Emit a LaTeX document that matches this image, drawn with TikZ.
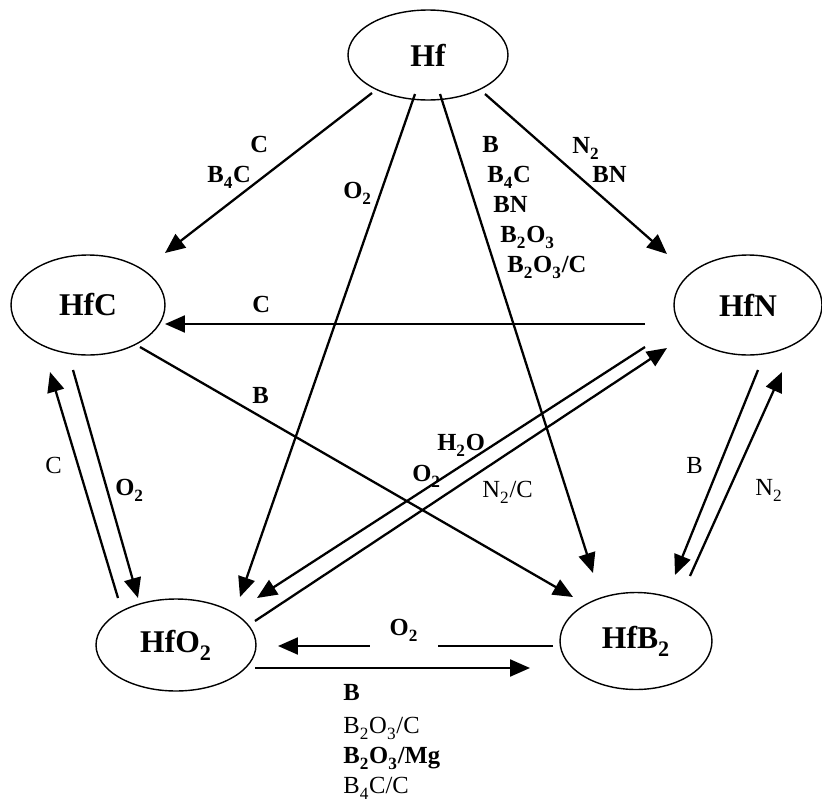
\documentclass[tikz,border=0pt]{standalone}
\usepackage{fontspec}
\setmainfont{Liberation Serif}
\usetikzlibrary{arrows.meta, shapes.geometric}
\newcommand{\lo}[1]{\textsubscript{\raisebox{-0.35ex}{#1}}}

\begin{document}
\begin{tikzpicture}[x=0.02cm, y=-0.02cm,
        phase/.style={ellipse, draw, line width=0.8pt, inner sep=0pt,
            font=\fontsize{18}{20}\selectfont\bfseries},
        rxn/.style={line width=1.3pt, -{Triangle[length=0.4cm, width=0.34cm]}},
        lbl/.style={anchor=base west, inner sep=0pt, font=\fontsize{14}{16}\selectfont\bfseries},
        lbn/.style={anchor=base west, inner sep=0pt, font=\fontsize{14}{16}\selectfont}]

        \useasboundingbox (0,0) rectangle (822,805);

        % phases
        \node[phase, minimum width=3.2cm, minimum height=1.8cm] (hf) at (428,55) {Hf};
        \node[phase, minimum width=3.08cm, minimum height=2cm] (hfc) at (88,305) {HfC};
        \node[phase, minimum width=2.96cm, minimum height=2cm] (hfn) at (748,305) {HfN};
        \node[phase, minimum width=3.2cm, minimum height=1.84cm] (hfo) at (176,645) {HfO\lo{2}};
        \node[phase, minimum width=3.04cm, minimum height=1.94cm] (hfb) at (636,641) {HfB\lo{2}};

        % from Hf
        \draw[rxn] ([shift={(-56,38)}]hf.center) -- ([shift={(77,-52)}]hfc.center);
        \node[lbl] (hfc-c) at (250,152) {C};
        \node[lbl] (hfc-b4c) at (207,182) {B\lo{4}C};

        \draw[rxn] ([shift={(-13,39)}]hf.center) -- ([shift={(64,-48)}]hfo.center);
        \node[lbl] (hfo-o2) at (343,198) {O\lo{2}};

        \draw[rxn] ([shift={(12,39)}]hf.center) -- ([shift={(-43,-68)}]hfb.center);
        \node[lbl] (hfb-b) at (482,152) {B};
        \node[lbl] (hfb-b4c) at (487,182) {B\lo{4}C};
        \node[lbl] (hfb-bn) at (493,212) {BN};
        \node[lbl] (hfb-b2o3) at (500,242) {B\lo{2}O\lo{3}};
        \node[lbl] (hfb-b2o3c) at (507,272) {B\lo{2}O\lo{3}/C};

        \draw[rxn] ([shift={(57,39)}]hf.center) -- ([shift={(-81,-51)}]hfn.center);
        \node[lbl] (hfn-n2) at (572,153) {N\lo{2}};
        \node[lbl] (hfn-bn) at (592,182) {BN};

        % HfN and HfC
        \draw[rxn] ([shift={(-103,19)}]hfn.center) -- ([shift={(77,19)}]hfc.center);
        \node[lbl] (nc-c) at (252,312) {C};

        \draw[rxn] ([shift={(52,42)}]hfc.center) -- ([shift={(-63,-44)}]hfb.center);
        \node[lbl] (cb-b) at (252,403) {B};

        % HfC and HfO2
        \draw[rxn] ([shift={(-15,65)}]hfc.center) -- ([shift={(-38,-47)}]hfo.center);
        \node[lbl] (co-o2) at (115,495) {O\lo{2}};
        \draw[rxn] ([shift={(-58,-47)}]hfo.center) -- ([shift={(-38,67)}]hfc.center);
        \node[lbn] (oc-c) at (45,473) {C};

        % HfN and HfO2
        \draw[rxn] ([shift={(-103,42)}]hfn.center) -- ([shift={(81,-47)}]hfo.center);
        \node[lbl] (no-h2o) at (437,450) {H\lo{2}O};
        \node[lbl] (no-o2) at (412,481) {O\lo{2}};
        \draw[rxn] ([shift={(79,-24)}]hfo.center) -- ([shift={(-81,43)}]hfn.center);
        \node[lbn] (on-n2c) at (482,497) {N\lo{2}/C};

        % HfN and HfB2
        \draw[rxn] ([shift={(10,65)}]hfn.center) -- ([shift={(39,-66)}]hfb.center);
        \node[lbn] (nb-b) at (686,473) {B};
        \draw[rxn] ([shift={(54,-65)}]hfb.center) -- ([shift={(34,67)}]hfn.center);
        \node[lbn] (bn-n2) at (755,495) {N\lo{2}};

        % HfB2 and HfO2
        \draw[rxn] ([shift={(-83,5)}]hfb.center) -- ([shift={(102,1)}]hfo.center);
        \node[lbl, anchor=base, fill=white, inner xsep=0.4cm, inner ysep=0.2cm] (bo-o2) at (404,635) {O\lo{2}};
        \draw[rxn] ([shift={(79,23)}]hfo.center) -- ([shift={(-106,27)}]hfb.center);
        \node[lbl] (ob-b) at (343,700) {B};
        \node[lbn] (ob-b2o3c) at (343,733) {B\lo{2}O\lo{3}/C};
        \node[lbl] (ob-b2o3mg) at (343,763) {B\lo{2}O\lo{3}/Mg};
        \node[lbn] (ob-b4cc) at (343,793) {B\lo{4}C/C};

    \end{tikzpicture}
\end{document}
